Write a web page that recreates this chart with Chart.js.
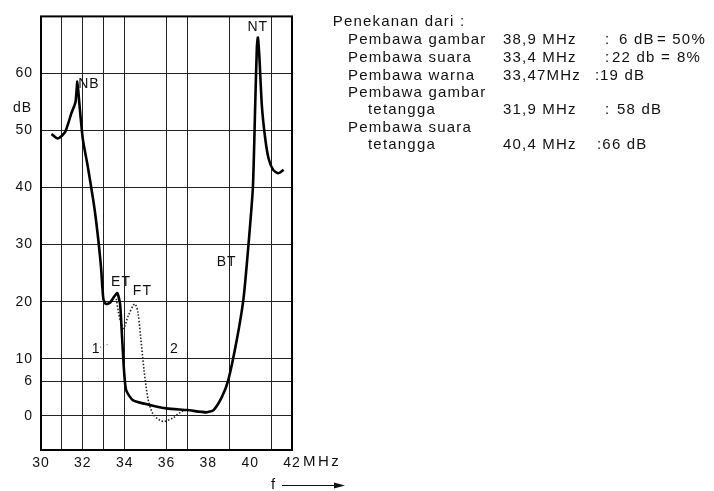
<!DOCTYPE html>
<html>
<head>
<meta charset="utf-8">
<script src="https://cdn.jsdelivr.net/npm/chart.js@4.4.1/dist/chart.umd.min.js"></script>
<style>
  html, body { margin: 0; padding: 0; background: #fff; }
  canvas { display: block; }
</style>
</head>
<body>
<canvas id="curveChart" width="714" height="491"></canvas>
<script>
// Frequency axis (MHz) and level axis (dB)
const xTickLabels = [30, 32, 34, 36, 38, 40, 42];
const xGridLines = [31, 32, 33, 34, 36, 37, 39, 41];
const yTicks = [0, 6, 10, 20, 30, 40, 50, 60];

// Curve 1 (solid)
const curve1X = [30.5, 30.8, 31.15, 31.45, 31.65, 31.74, 31.83, 32.0, 32.25, 32.55, 32.75, 32.87, 32.98, 33.1, 33.3, 33.5, 33.65, 33.78, 33.86, 33.97, 34.07, 34.4, 35.2, 36.0, 37.0, 37.9, 38.25, 38.65, 38.95, 39.35, 39.68, 39.92, 40.13, 40.24, 40.32, 40.37, 40.44, 40.56, 40.72, 40.88, 41.1, 41.35, 41.6];
const curve1Y = [49.4, 48.6, 49.7, 53.0, 55.0, 58.6, 54.9, 48.5, 43.4, 36.5, 30.5, 26.0, 20.5, 19.6, 19.8, 20.9, 21.5, 19.6, 14.8, 7.9, 4.5, 2.7, 1.9, 1.3, 1.0, 0.6, 1.0, 3.3, 6.2, 13.1, 20.5, 30.0, 40.0, 54.3, 64.6, 66.3, 62.9, 54.3, 48.6, 45.1, 43.1, 42.5, 43.1];

// Curve 2 (dotted)
const curve2X = [33.6, 33.7, 33.81, 33.95, 34.18, 34.48, 34.63, 34.77, 34.93, 35.13, 35.37, 35.65, 35.88, 36.3, 36.7, 36.95];
const curve2Y = [20.5, 18.2, 16.5, 15.3, 17.6, 19.6, 18.2, 13.6, 7.9, 2.7, 0.2, -0.7, -1.0, -0.4, 0.7, 1.0];

// short leader next to label "1"
const leaderX = [32.82, 33.27];
const leaderY = [12.0, 12.6];

// curve labels
const markNames = ['NB', 'NT', 'ET', 'FT', 'BT', '1', '2'];
const markX = [31.78, 39.87, 33.35, 34.39, 38.4, 32.43, 36.17];
const markY = [58.2, 68.2, 23.4, 21.9, 27.0, 11.6, 11.6];

const toPoints = (xs, ys) => xs.map((x, i) => ({ x: x, y: ys[i] }));

const FONT = '"Liberation Sans", Arial, sans-serif';

// Text on the right side
const notes = [
  { y: 21.7, parts: [[332.7, 'Penekanan dari :']] },
  { y: 40, parts: [[348, 'Pembawa gambar'], [503, '38,9 MHz'], [605, ':'], [619, '6 dB'], [657, '= 50%']] },
  { y: 58, parts: [[348, 'Pembawa suara'], [503, '33,4 MHz'], [605, ':'], [612, '22 db ='], [677, '8%']] },
  { y: 76, parts: [[348, 'Pembawa warna'], [503, '33,47MHz'], [595, ':'], [600, '19 dB']] },
  { y: 93.3, parts: [[348, 'Pembawa gambar']] },
  { y: 110, parts: [[368, 'tetangga'], [503, '31,9 MHz'], [605, ':'], [617, '58 dB']] },
  { y: 128.3, parts: [[348, 'Pembawa suara']] },
  { y: 145, parts: [[368, 'tetangga'], [503, '40,4 MHz'], [597, ':66 dB']] }
];

const annotations = {
  id: 'annotations',
  beforeDraw(chart) {
    chart.ctx.letterSpacing = '1px';
  },
  afterDraw(chart) {
    const ctx = chart.ctx;
    const a = chart.chartArea;
    const x = chart.scales.x;
    const y = chart.scales.y;
    ctx.save();

    // frame
    ctx.strokeStyle = '#000';
    ctx.lineWidth = 2;
    ctx.strokeRect(a.left, a.top, a.right - a.left, a.bottom - a.top);

    // curve labels
    ctx.fillStyle = '#111';
    ctx.font = '14px ' + FONT;
    ctx.textAlign = 'left';
    ctx.textBaseline = 'middle';
    markNames.forEach((t, i) => {
      ctx.fillText(t, x.getPixelForValue(markX[i]), y.getPixelForValue(markY[i]));
    });

    // axis units
    ctx.fillText('dB', 13, y.getPixelForValue(54));
    ctx.font = '15px ' + FONT;
    ctx.letterSpacing = '2.5px';
    ctx.fillText('MHz', x.getPixelForValue(42) + 11, a.bottom + 12);
    ctx.letterSpacing = '1px';

    // f --->
    const fy = a.bottom + 35;
    ctx.fillText('f', 271, fy);
    ctx.strokeStyle = '#111';
    ctx.lineWidth = 1;
    ctx.beginPath();
    ctx.moveTo(282, fy + 0.5);
    ctx.lineTo(337, fy + 0.5);
    ctx.stroke();
    ctx.beginPath();
    ctx.moveTo(334, fy - 2.5);
    ctx.lineTo(345, fy + 0.5);
    ctx.lineTo(334, fy + 3.5);
    ctx.closePath();
    ctx.fill();

    // notes
    ctx.font = '15px ' + FONT;
    ctx.letterSpacing = '1.2px';
    notes.forEach(row => {
      row.parts.forEach(p => ctx.fillText(p[1], p[0], row.y));
    });

    ctx.restore();
  }
};

new Chart(document.getElementById('curveChart').getContext('2d'), {
  type: 'line',
  data: {
    datasets: [
      {
        data: toPoints(curve1X, curve1Y),
        borderColor: '#000',
        borderWidth: 2.6,
        pointRadius: 0,
        tension: 0.2,
        fill: false
      },
      {
        data: toPoints(curve2X, curve2Y),
        borderColor: '#222',
        borderWidth: 1.6,
        borderDash: [1.5, 1.8],
        pointRadius: 0,
        tension: 0.3,
        fill: false
      },
      {
        data: toPoints(leaderX, leaderY),
        borderColor: '#444',
        borderWidth: 1,
        borderDash: [1, 2.5],
        pointRadius: 0,
        fill: false
      }
    ]
  },
  options: {
    responsive: false,
    animation: false,
    layout: { padding: { top: 8, right: 422, left: 0, bottom: 0 } },
    plugins: {
      legend: { display: false },
      tooltip: { enabled: false }
    },
    scales: {
      x: {
        type: 'linear',
        min: 30,
        max: 42,
        afterBuildTicks: s => {
          const vals = Array.from(new Set(xTickLabels.concat(xGridLines))).sort((p, q) => p - q);
          s.ticks = vals.map(v => ({ value: v }));
        },
        afterFit: s => { s.height = 41; },
        border: { display: false },
        grid: {
          drawTicks: false,
          lineWidth: 1,
          color: c => (c.tick && xGridLines.includes(c.tick.value)) ? '#222' : 'rgba(0,0,0,0)'
        },
        ticks: {
          color: '#111',
          padding: 5,
          autoSkip: false,
          maxRotation: 0,
          font: { family: FONT, size: 14 },
          callback: v => xTickLabels.includes(v) ? String(v) : ''
        }
      },
      y: {
        min: -6,
        max: 70,
        afterBuildTicks: s => { s.ticks = yTicks.map(v => ({ value: v })); },
        afterFit: s => { s.width = 41; },
        border: { display: false },
        grid: {
          drawTicks: false,
          lineWidth: 1,
          color: '#222'
        },
        ticks: {
          color: '#111',
          padding: 8,
          font: { family: FONT, size: 14 }
        }
      }
    }
  },
  plugins: [annotations]
});
</script>
</body>
</html>
